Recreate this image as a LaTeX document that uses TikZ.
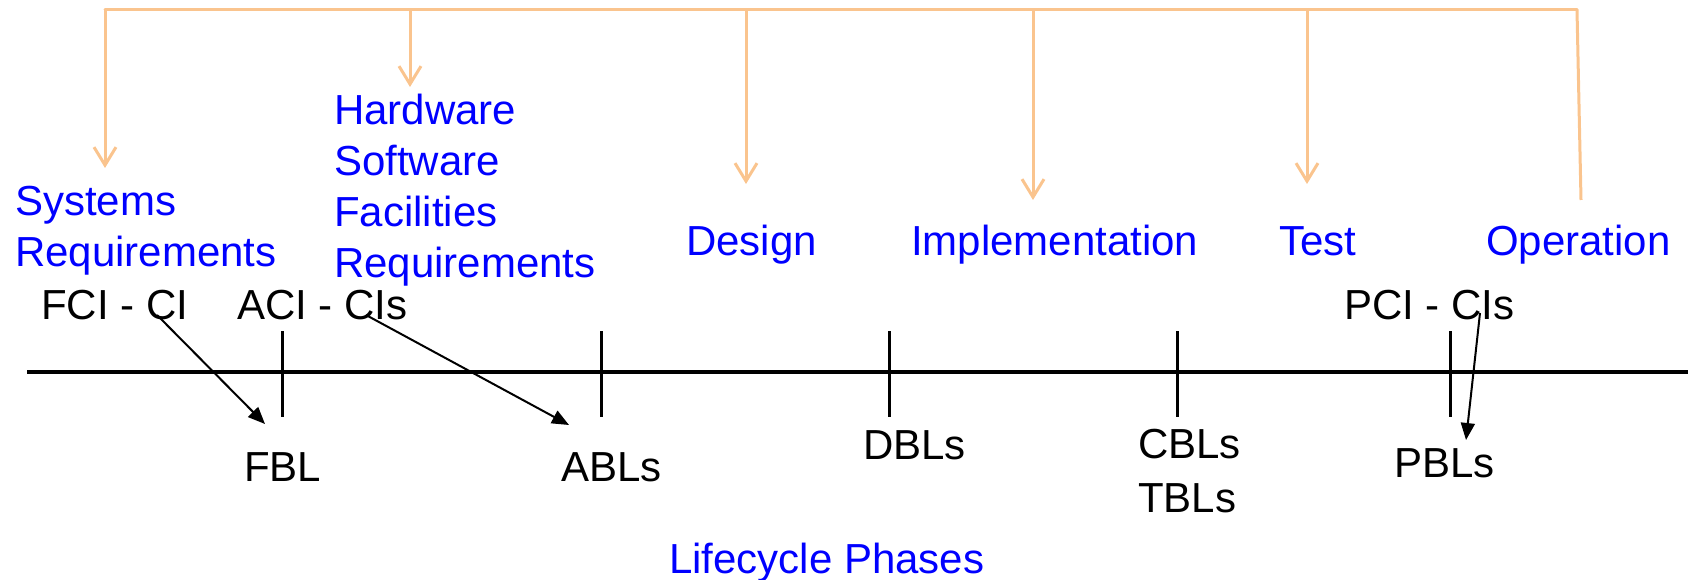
\documentclass[tikz,border=0pt]{standalone}
\usepackage{fontspec}
\setmainfont{Liberation Sans}
\usetikzlibrary{arrows.meta,calc}
\definecolor{busorange}{RGB}{250,196,142}
\definecolor{phaseblue}{RGB}{0,0,255}
\begin{document}
\begin{tikzpicture}[x=1pt,y=-1pt,
  lbl/.style={inner sep=0pt, anchor=base west, font=\fontsize{42pt}{51pt}\selectfont},
  multi/.style={inner sep=0pt, anchor=north west, align=left, font=\fontsize{42pt}{51pt}\selectfont},
  phase/.style={text=phaseblue},
  bus/.style={busorange, line width=3pt},
  drop/.style={bus, -{Straight Barb[length=18pt,width=22pt]}},
  axis/.style={black, line width=4pt},
  tick/.style={black, line width=3pt},
  link/.style={black, line width=2pt, -{Triangle[length=17pt,width=14pt]}}
]
\useasboundingbox (0,0) rectangle (1695,580);

% phase labels
\node[multi, phase] (sysreq) at (15,186) {Systems\\Requirements};
\node[multi, phase] (hwreq) at (334,94) {Hardware\\Software\\Facilities\\Requirements};
\node[lbl, phase] (design) at (686,255) {Design};
\node[lbl, phase] (impl) at (911,255) {Implementation};
\node[lbl, phase] (test) at (1279,255) {Test};
\node[lbl, phase] (oper) at (1486,255) {Operation};
\node[lbl, phase] (life) at (669,573) {Lifecycle Phases};

% configuration items
\node[lbl] (fci) at (41,319) {FCI - CI};
\node[lbl] (aci) at (237,319) {ACI - CIs};
\node[lbl] (pci) at (1344,319) {PCI - CIs};

% baselines
\node[lbl] (fbl) at (244,481) {FBL};
\node[lbl] (abl) at (561,481) {ABLs};
\node[lbl] (dbl) at (863,459) {DBLs};
\node[multi, font=\fontsize{42pt}{54pt}\selectfont] (cbl) at (1138,429) {CBLs\\TBLs};
\node[lbl] (pbl) at (1394,477) {PBLs};

% orange bus feeding every phase
\coordinate (b1) at (105,10);
\coordinate (b2) at (410,10);
\coordinate (b3) at (746,10);
\coordinate (b4) at (1033,10);
\coordinate (b5) at (1307,10);
\coordinate (b6) at (1577,10);
\coordinate (t1) at (105,168);
\coordinate (t2) at (410,87);
\coordinate (t3) at (746,184);
\coordinate (t4) at (1033,200);
\coordinate (t5) at (1307,184);
\coordinate (t6) at (1581,200);
\draw[bus, line cap=round] (b1) -- (b6);
\draw[drop] (b1) -- (t1);
\draw[drop] (b2) -- (t2);
\draw[drop] (b3) -- (t3);
\draw[drop] (b4) -- (t4);
\draw[drop] (b5) -- (t5);
\draw[bus] (b6) -- (t6);

% timeline with milestones
\coordinate (a0) at (27,372);
\coordinate (a1) at (1688,372);
\draw[axis] (a0) -- (a1);
\foreach \x/\n in {282/m1,601/m2,889/m3,1177/m4,1450/m5}{
  \coordinate (\n top) at (\x,331);
  \coordinate (\n bot) at (\x,417);
  \draw[tick] (\n top) -- (\n bot);
}

% items promoted to baselines
\coordinate (fcitail) at (157,315);
\coordinate (fcihead) at (265,424);
\coordinate (acitail) at (366,315);
\coordinate (acihead) at (569,425);
\coordinate (pcitail) at (1480,313);
\coordinate (pcihead) at (1466,440);
\draw[link] (fcitail) -- (fcihead);
\draw[link] (acitail) -- (acihead);
\draw[link] (pcitail) -- (pcihead);
\end{tikzpicture}
\end{document}
